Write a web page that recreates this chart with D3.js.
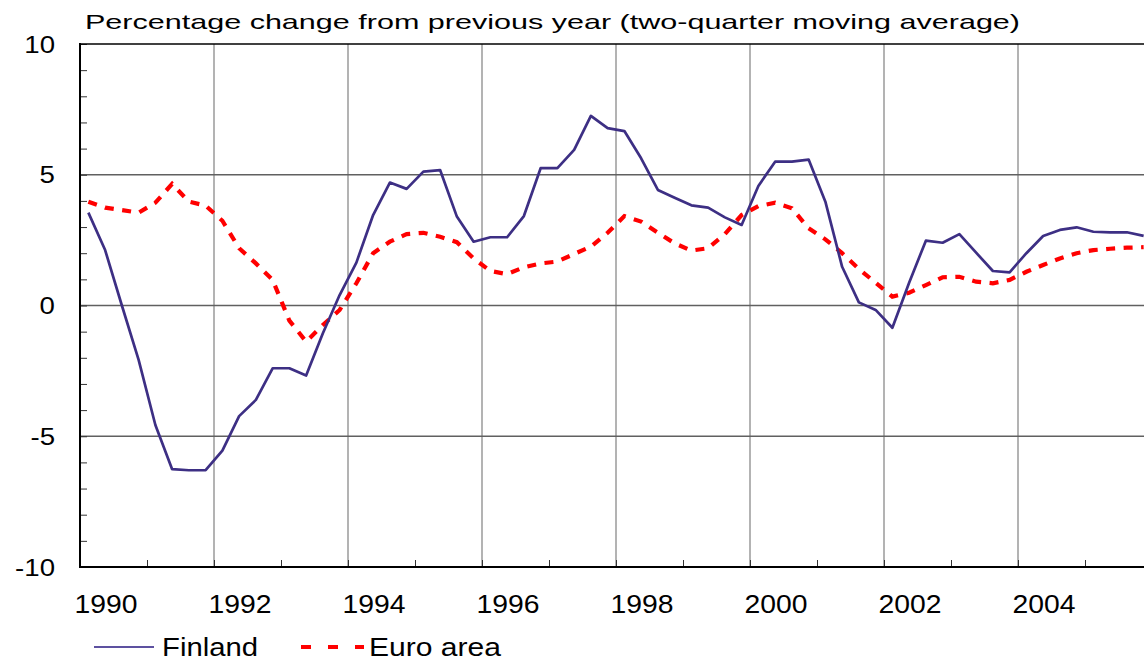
<!DOCTYPE html>
<html>
<head>
<meta charset="utf-8">
<script src="https://cdn.jsdelivr.net/npm/d3@7"></script>
<style>
  body { margin: 0; background: #fff; }
  svg { display: block; }
  text { font-family: "Liberation Sans", Arial, sans-serif; fill: #000; }
</style>
</head>
<body>
<svg id="canvas" width="1144" height="662"></svg>
<script>
// quarterly data, 1990 Q1 .. 2005 Q4
let startYear = 1990;
let finland = [
  3.55, 2.12, 0.0, -2.08, -4.57, -6.26, -6.30, -6.30,
  -5.55, -4.23, -3.61, -2.40, -2.40, -2.68, -1.06, 0.40,
  1.64, 3.46, 4.70, 4.46, 5.12, 5.18, 3.40, 2.44,
  2.61, 2.61, 3.42, 5.25, 5.25, 5.95, 7.25, 6.78,
  6.67, 5.63, 4.42, 4.12, 3.83, 3.74, 3.37, 3.08,
  4.57, 5.50, 5.50, 5.58, 3.97, 1.48, 0.12, -0.17,
  -0.85, 0.87, 2.48, 2.40, 2.73, 2.02, 1.32, 1.27,
  2.00, 2.66, 2.89, 2.99, 2.82, 2.80, 2.80, 2.66
];
let euroArea = [
  3.97, 3.74, 3.65, 3.55, 3.93, 4.65, 3.97, 3.82,
  3.24, 2.19, 1.61, 0.98, -0.58, -1.38, -0.75, -0.17,
  0.85, 2.00, 2.44, 2.73, 2.78, 2.63, 2.42, 1.80,
  1.32, 1.20, 1.46, 1.61, 1.68, 1.97, 2.25, 2.78,
  3.42, 3.21, 2.78, 2.38, 2.10, 2.19, 2.73, 3.46,
  3.80, 3.93, 3.72, 2.95, 2.53, 2.00, 1.40, 0.87,
  0.34, 0.49, 0.78, 1.08, 1.10, 0.91, 0.85, 0.98,
  1.29, 1.55, 1.80, 2.00, 2.12, 2.17, 2.21, 2.23
];
let yearLabels = ['1990', '1992', '1994', '1996', '1998', '2000', '2002', '2004'];
let yTickLabels = [10, 5, 0, -5, -10];
let legendItems = ['Finland', 'Euro area'];
let titleText = 'Percentage change from previous year (two-quarter moving average)';

let canvas = d3.select('#canvas');

let plotLeft = 80, plotTop = 44, plotBottom = 567;
let x = d3.scaleLinear().domain([1990, 2006]).range([plotLeft, plotLeft + 16 * 67]);
let y = d3.scaleLinear().domain([-10, 10]).range([plotBottom, plotTop]);

// stretch text horizontally a bit, like the original export
let stretch = (sel, f) => {
  sel.each(function () {
    let w = this.getComputedTextLength();
    d3.select(this).attr('textLength', w * f).attr('lengthAdjust', 'spacingAndGlyphs');
  });
};

// gridlines
canvas.append('g')
  .selectAll('line')
  .data(d3.range(1992, 2006, 2))
  .enter()
  .append('line')
  .attr('x1', (d) => x(d)).attr('x2', (d) => x(d))
  .attr('y1', plotTop).attr('y2', plotBottom)
  .attr('stroke', '#8a8a8a').attr('stroke-width', 1.3);

canvas.append('g')
  .selectAll('line')
  .data([5, 0, -5])
  .enter()
  .append('line')
  .attr('x1', plotLeft).attr('x2', 1144)
  .attr('y1', (d) => y(d)).attr('y2', (d) => y(d))
  .attr('stroke', '#606060').attr('stroke-width', 1.3);

// axes
let yAxis = canvas.append('g')
  .attr('transform', 'translate(' + plotLeft + ',0)')
  .call(d3.axisLeft(y).tickValues(d3.range(-10, 11)).tickSize(-7).tickFormat(''));
yAxis.select('.domain').remove();
yAxis.selectAll('line').attr('stroke', '#333');

let xAxis = canvas.append('g')
  .attr('transform', 'translate(0,' + plotBottom + ')')
  .call(d3.axisBottom(x).tickValues(d3.range(1990, 2007)).tickSize(-7).tickFormat(''));
xAxis.select('.domain').remove();
xAxis.selectAll('line').attr('stroke', '#333');

canvas.append('line')
  .attr('x1', plotLeft).attr('x2', plotLeft).attr('y1', plotTop - 1).attr('y2', plotBottom + 1)
  .attr('stroke', '#000').attr('stroke-width', 2);
canvas.append('line')
  .attr('x1', plotLeft - 1).attr('x2', 1144).attr('y1', plotBottom).attr('y2', plotBottom)
  .attr('stroke', '#000').attr('stroke-width', 2.2);
canvas.append('line')
  .attr('x1', plotLeft - 1).attr('x2', 1144).attr('y1', plotTop).attr('y2', plotTop)
  .attr('stroke', '#000').attr('stroke-width', 1.5);

// tick labels
canvas.append('g')
  .selectAll('text')
  .data(yTickLabels)
  .enter()
  .append('text')
  .attr('x', 55)
  .attr('y', (d) => y(d) + 8.5)
  .attr('text-anchor', 'end')
  .attr('font-size', 24)
  .text((d) => d)
  .call(stretch, 1.15);

canvas.append('g')
  .selectAll('text')
  .data(yearLabels)
  .enter()
  .append('text')
  .attr('x', (d) => x(+d) + 26)
  .attr('y', 613)
  .attr('text-anchor', 'middle')
  .attr('font-size', 25)
  .text((d) => d)
  .attr('textLength', 63)
  .attr('lengthAdjust', 'spacingAndGlyphs');

// title
canvas.append('text')
  .attr('x', 85)
  .attr('y', 29)
  .attr('font-size', 21)
  .text(titleText)
  .attr('textLength', 935)
  .attr('lengthAdjust', 'spacingAndGlyphs');

// lines
let line = d3.line()
  .x((d, i) => x(startYear + (i + 0.5) / 4))
  .y((d) => y(d));

canvas.append('path')
  .datum(euroArea)
  .attr('d', line)
  .attr('fill', 'none')
  .attr('stroke', '#ff0000')
  .attr('stroke-width', 4.2)
  .attr('stroke-dasharray', '9,8.5');

canvas.append('path')
  .datum(finland)
  .attr('d', line)
  .attr('fill', 'none')
  .attr('stroke', '#3d2f84')
  .attr('stroke-width', 2.7)
  .attr('stroke-linejoin', 'round');

// legend
let legendWidths = [96, 132];
canvas.append('line')
  .attr('x1', 94).attr('x2', 154).attr('y1', 647).attr('y2', 647)
  .attr('stroke', '#5d51a0').attr('stroke-width', 2);
canvas.append('line')
  .attr('x1', 301).attr('x2', 364).attr('y1', 647).attr('y2', 647)
  .attr('stroke', '#ff0000').attr('stroke-width', 4)
  .attr('stroke-dasharray', '10,17');

canvas.append('g')
  .selectAll('text')
  .data(legendItems)
  .enter()
  .append('text')
  .attr('x', (d, i) => (i === 0 ? 162 : 369))
  .attr('y', 656)
  .attr('font-size', 25)
  .text((d) => d)
  .attr('textLength', (d, i) => legendWidths[i])
  .attr('lengthAdjust', 'spacingAndGlyphs');
</script>
</body>
</html>
